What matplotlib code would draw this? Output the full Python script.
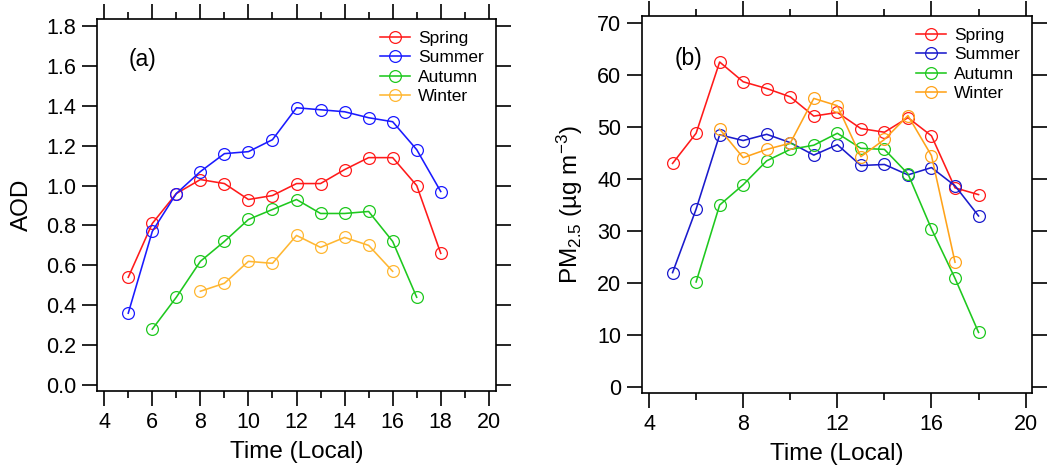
import matplotlib
matplotlib.use("Agg")
import matplotlib.pyplot as plt
from matplotlib.ticker import MultipleLocator

plt.rcParams['font.family'] = ['Liberation Sans', 'DejaVu Sans']
plt.rcParams['mathtext.fontset'] = 'custom'
plt.rcParams['mathtext.rm'] = 'Liberation Sans'
plt.rcParams['mathtext.it'] = 'Liberation Sans'
plt.rcParams['mathtext.default'] = 'regular'

# ---- Data ----
hours_spring = [5, 6, 7, 8, 9, 10, 11, 12, 13, 14, 15, 16, 17, 18]
hours_summer = [5, 6, 7, 8, 9, 10, 11, 12, 13, 14, 15, 16, 17, 18]
hours_autumn_a = [6, 7, 8, 9, 10, 11, 12, 13, 14, 15, 16, 17]
hours_winter_a = [8, 9, 10, 11, 12, 13, 14, 15, 16]
hours_autumn_b = [6, 7, 8, 9, 10, 11, 12, 13, 14, 15, 16, 17, 18]
hours_winter_b = [7, 8, 9, 10, 11, 12, 13, 14, 15, 16, 17]

aod_spring = [0.54, 0.81, 0.96, 1.03, 1.01, 0.93, 0.95, 1.01, 1.01, 1.08, 1.14, 1.14, 1.00, 0.66]
aod_summer = [0.36, 0.77, 0.96, 1.07, 1.16, 1.17, 1.23, 1.39, 1.38, 1.37, 1.34, 1.32, 1.18, 0.97]
aod_autumn = [0.28, 0.44, 0.62, 0.72, 0.83, 0.88, 0.93, 0.86, 0.86, 0.87, 0.72, 0.44]
aod_winter = [0.47, 0.51, 0.62, 0.61, 0.75, 0.69, 0.74, 0.70, 0.57]

pm_spring = [43.0, 48.8, 62.5, 58.7, 57.4, 55.8, 52.1, 52.8, 49.7, 49.0, 51.8, 48.3, 38.3, 37.0]
pm_summer = [22.0, 34.2, 48.5, 47.4, 48.6, 47.0, 44.6, 46.6, 42.6, 42.8, 40.8, 42.2, 38.7, 32.9]
pm_autumn = [20.2, 35.0, 38.9, 43.5, 45.7, 46.5, 48.8, 45.9, 45.7, 41.0, 30.4, 20.9, 10.5]
pm_winter = [49.6, 44.1, 45.7, 46.9, 55.5, 54.1, 44.3, 47.6, 52.2, 44.5, 24.0]

seasons = ['Spring', 'Summer', 'Autumn', 'Winter']
colors_a = ['#ff1a1a', '#1a1aff', '#1ec81e', '#ffb732']
colors_b = ['#ff1a1a', '#1a1acc', '#1ec81e', '#ffa31a']

fig = plt.figure(figsize=(10.59, 4.73), dpi=100)
axa = fig.add_axes([0.0916, 0.1734, 0.3768, 0.7864])
axb = fig.add_axes([0.6062, 0.1691, 0.3683, 0.7971])

mk = dict(marker='o', markerfacecolor='none', markersize=8.5, markeredgewidth=0.9, linewidth=1.15)

for x, y, lab, c in zip([hours_spring, hours_summer, hours_autumn_a, hours_winter_a],
                        [aod_spring, aod_summer, aod_autumn, aod_winter], seasons, colors_a):
    axa.plot(x, y, color=c, label=lab, **mk)
for x, y, lab, c in zip([hours_spring, hours_summer, hours_autumn_b, hours_winter_b],
                        [pm_spring, pm_summer, pm_autumn, pm_winter], seasons, colors_b):
    axb.plot(x, y, color=c, label=lab, **mk)

axa.set_xlim(3.7, 20.3)
axa.set_ylim(-0.03, 1.835)
axa.xaxis.set_major_locator(MultipleLocator(2))
axa.xaxis.set_minor_locator(MultipleLocator(1))
axa.yaxis.set_major_locator(MultipleLocator(0.2))
axa.yaxis.set_major_formatter(matplotlib.ticker.FormatStrFormatter('%.1f'))

axb.set_xlim(3.7, 20.27)
axb.set_ylim(-1.15, 71.35)
axb.xaxis.set_major_locator(MultipleLocator(4))
axb.xaxis.set_minor_locator(MultipleLocator(2))
axb.yaxis.set_major_locator(MultipleLocator(10))

for ax in (axa, axb):
    ax.tick_params(which='major', direction='out', length=11, width=1.2,
                   top=True, right=True, labelsize=15.5, pad=4)
    ax.tick_params(which='minor', direction='out', length=5, width=1.2,
                   top=True, bottom=True, left=False, right=False)
    ax.tick_params(axis='y', which='minor', left=False, right=False)
    for s in ax.spines.values():
        s.set_linewidth(1.2)
    ax.set_xlabel('Time (Local)', fontsize=17.5, labelpad=6)
    ax.legend(loc='upper right', bbox_to_anchor=(1.0, 1.0), frameon=False,
              fontsize=12.5, handlelength=1.75, handletextpad=0.45,
              labelspacing=0.23, borderaxespad=0.3)

axa.set_ylabel('AOD', fontsize=17.5, labelpad=9)
axb.set_ylabel('PM$_{2.5}$ (µg m$^{-3}$)', fontsize=17.5, labelpad=9)

axa.text(0.08, 0.89, '(a)', transform=axa.transAxes, fontsize=16.5, va='center')
axb.text(0.085, 0.887, '(b)', transform=axb.transAxes, fontsize=16.5, va='center')

fig.savefig('out.png', dpi=100)
